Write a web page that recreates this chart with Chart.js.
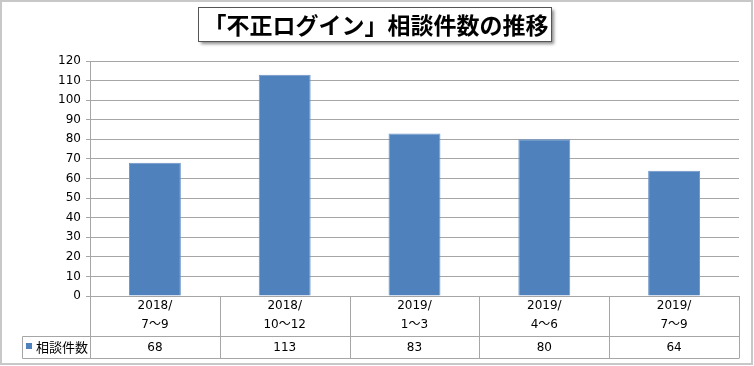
<!DOCTYPE html>
<html>
<head>
<meta charset="utf-8">
<script src="https://cdn.jsdelivr.net/npm/chart.js@4"></script>
<style>
  html, body { margin: 0; padding: 0; background: #fff; }
  #wrap { width: 754px; height: 366px; }
</style>
</head>
<body>
<div id="wrap"><canvas id="chart" width="754" height="366"></canvas></div>
<script>
const titleText = '「不正ログイン」相談件数の推移';
const seriesName = '相談件数';
const categories = [['2018/', '7～9'], ['2018/', '10～12'], ['2019/', '1～3'], ['2019/', '4～6'], ['2019/', '7～9']];
const counts = [68, 113, 83, 80, 64];

const FONT = '"DejaVu Sans", "Noto Sans CJK JP", sans-serif';
const CJK = '"Noto Sans CJK JP", sans-serif';
const LINE = '#a6a6a6';

// タイトルの箱（影つき）
const titleBox = {
    id: 'titleBox',
    afterDraw(chart) {
        const ctx = chart.ctx;
        const x = 198, y = 7, w = 353, h = 34;
        ctx.save();
        ctx.shadowColor = 'rgba(0,0,0,0.45)';
        ctx.shadowOffsetX = 3;
        ctx.shadowOffsetY = 3;
        ctx.shadowBlur = 3;
        ctx.fillStyle = '#fff';
        ctx.fillRect(x, y, w, h);
        ctx.restore();
        ctx.save();
        ctx.strokeStyle = '#555';
        ctx.lineWidth = 1;
        ctx.strokeRect(x + 0.5, y + 0.5, w, h);
        ctx.fillStyle = '#000';
        ctx.font = 'bold 23px ' + CJK;
        ctx.textAlign = 'center';
        ctx.textBaseline = 'middle';
        ctx.fillText(titleText, 376, y + h / 2 + 1);
        ctx.restore();
    }
};

// 外枠とデータテーブル
const dataTable = {
    id: 'dataTable',
    afterDraw(chart) {
        const ctx = chart.ctx;
        const xs = chart.scales.x;
        const area = chart.chartArea;
        const left = area.left, right = area.right, top = area.bottom;
        const rowTop = 336, rowBottom = 358, tblLeft = 22;
        const step = (right - left) / counts.length;

        ctx.save();
        // 外枠
        ctx.strokeStyle = '#c8c8c8';
        ctx.lineWidth = 2;
        ctx.strokeRect(1, 1, 751, 363);

        ctx.strokeStyle = LINE;
        ctx.lineWidth = 1;
        ctx.beginPath();
        for (let i = 0; i <= counts.length; i++) {
            const x = Math.round(left + step * i) + 0.5;
            ctx.moveTo(x, top);
            ctx.lineTo(x, rowBottom);
        }
        ctx.moveTo(tblLeft + 0.5, rowTop + 0.5);
        ctx.lineTo(right + 0.5, rowTop + 0.5);
        ctx.moveTo(tblLeft + 0.5, rowBottom + 0.5);
        ctx.lineTo(right + 0.5, rowBottom + 0.5);
        ctx.moveTo(tblLeft + 0.5, rowTop + 0.5);
        ctx.lineTo(tblLeft + 0.5, rowBottom + 0.5);
        ctx.stroke();

        // 凡例マーク
        ctx.fillStyle = '#4f81bd';
        ctx.fillRect(26, 343, 6, 6);
        ctx.fillStyle = '#000';
        ctx.font = '13px ' + CJK;
        ctx.textBaseline = 'middle';
        ctx.textAlign = 'left';
        ctx.fillText(seriesName, 36, (rowTop + rowBottom) / 2);

        ctx.font = '12px ' + FONT;
        ctx.textAlign = 'center';
        counts.forEach((v, i) => {
            ctx.fillText(String(v), xs.getPixelForValue(i), (rowTop + rowBottom) / 2 + 1);
        });
        ctx.restore();
    }
};

main();

function main() {
    drawChart();
}

function drawChart() {
    const ctx = document.getElementById('chart');
    new Chart(ctx, {
        type: 'bar',
        data: {
            labels: categories,
            datasets: [
                {
                    label: seriesName,
                    data: counts,
                    backgroundColor: '#4f81bd',
                    borderColor: '#6b96c8',
                    borderWidth: 1,
                    categoryPercentage: 0.4,
                    barPercentage: 1,
                },
            ],
        },
        options: {
            responsive: false,
            animation: false,
            layout: {
                padding: { left: 0, right: 15, top: 61, bottom: 0 },
            },
            plugins: {
                legend: { display: false },
                title: { display: false },
                tooltip: { enabled: false },
            },
            scales: {
                x: {
                    grid: { display: false, drawTicks: false },
                    border: { color: LINE },
                    ticks: {
                        color: '#000',
                        font: { family: FONT, size: 12, lineHeight: 1.6 },
                        padding: 0,
                        maxRotation: 0,
                        autoSkip: false,
                    },
                    afterFit(s) { s.height = 70; },
                },
                y: {
                    min: 0,
                    max: 120,
                    grid: { color: LINE, tickLength: 4, tickColor: LINE },
                    border: { color: LINE },
                    ticks: {
                        stepSize: 10,
                        color: '#000',
                        font: { family: FONT, size: 12 },
                        padding: 5,
                    },
                    afterFit(s) { s.width = 90; },
                },
            },
        },
        plugins: [titleBox, dataTable],
    });
}
</script>
</body>
</html>
